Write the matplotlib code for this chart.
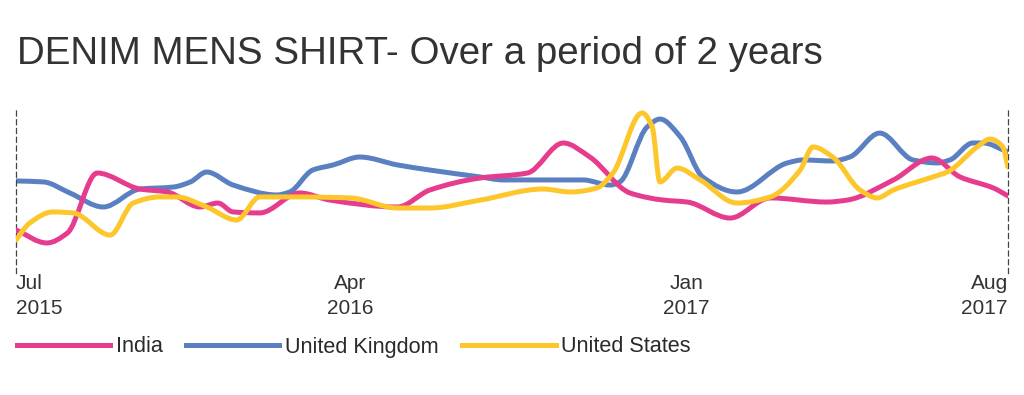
import numpy as np
import matplotlib
matplotlib.use("Agg")
import matplotlib.pyplot as plt
from matplotlib.path import Path
from matplotlib.patches import PathPatch
from matplotlib.lines import Line2D

plt.rcParams['font.family'] = ['Liberation Sans', 'DejaVu Sans']

title = "DENIM MENS SHIRT- Over a period of 2 years"
series_names = ["India", "United Kingdom", "United States"]
series_colors = ["#E63C8E", "#5B80C2", "#FDC72C"]

# x = weeks since start of July 2015, values = relative interest
india_weeks = [0, 3.6, 6.0, 9.5, 14.5, 17.7, 21.5, 23.6, 25.4, 28.5, 33.2, 36.7, 44.6, 48.4,
               54.3, 59.8, 64.0, 67.1, 71.8, 75.7, 78.5, 83.5, 88.2, 94.8, 97.2, 102.6,
               107.1, 110.4, 114.3, 116]
india_values = [26.1, 18.2, 24.2, 60.6, 50.9, 49.1, 40.0, 42.4, 37.0, 36.4, 48.5, 44.2, 40.0, 50.3,
                57.6, 60.6, 78.8, 70.3, 48.5, 44.2, 43.0, 33.3, 45.5, 43.0, 44.2, 56.4,
                69.7, 58.2, 51.5, 46.7]

uk_weeks = [0, 3.2, 6.3, 10.2, 14.5, 18.4, 20.4, 22.3, 25.4, 30.5, 32.0, 34.7, 37.1, 40.2,
            44.6, 48.4, 54.3, 57.0, 66.3, 69.5, 70.6, 73.8, 75.3, 77.7, 80.3, 84.3, 90.2,
            92.0, 95.5, 97.5, 101.0, 104.9, 107.7, 109.2, 111.9, 113.1, 116]
uk_values = [55.8, 55.2, 48.5, 40.0, 50.9, 52.1, 55.2, 61.2, 53.3, 47.3, 49.1, 62.4, 65.5, 70.3,
             65.5, 62.4, 58.2, 56.4, 56.4, 53.3, 55.2, 88.5, 93.3, 82.4, 58.2, 49.1, 66.7,
             68.5, 67.9, 70.3, 84.8, 68.5, 66.7, 68.5, 78.8, 78.8, 73.3]

us_weeks = [0, 1.6, 4.3, 6.7, 11.0, 13.7, 16.8, 18.8, 22.3, 25.8, 28.5, 33.2, 39.1, 44.6,
            48.4, 54.3, 61.6, 64.8, 67.9, 69.8, 73.2, 74.4, 75.3, 77.3, 80.0, 84.3, 88.2,
            91.7, 93.2, 95.5, 98.7, 100.7, 102.6, 107.2, 108.9, 112.4, 113.9, 115.4, 116]
us_values = [20.0, 30.3, 37.0, 36.4, 23.0, 42.4, 46.1, 46.1, 40.0, 32.1, 46.1, 46.1, 45.5, 39.4,
             39.4, 44.2, 50.9, 49.1, 51.5, 60.6, 97.0, 88.5, 55.2, 63.6, 56.4, 42.4, 46.1,
             62.4, 76.4, 70.3, 50.3, 45.5, 50.3, 58.2, 61.2, 76.4, 81.2, 76.4, 64.2]

tick_weeks = [0, 39.1, 78.4, 116]
tick_labels = ["Jul\n2015", "Apr\n2016", "Jan\n2017", "Aug\n2017"]


def smooth_path(xs, ys):
    x = np.asarray(xs, float)
    y = np.asarray(ys, float)
    h = np.diff(x)
    d = np.diff(y) / h
    n = len(x)
    m = np.zeros(n)
    for k in range(1, n - 1):
        if d[k - 1] * d[k] > 0:
            w1 = 2 * h[k] + h[k - 1]
            w2 = h[k] + 2 * h[k - 1]
            m[k] = (w1 + w2) / (w1 / d[k - 1] + w2 / d[k])
    m[0] = d[0]
    m[-1] = d[-1]
    verts = [(x[0], y[0])]
    codes = [Path.MOVETO]
    for k in range(n - 1):
        verts += [(x[k] + h[k] / 3, y[k] + m[k] * h[k] / 3),
                  (x[k + 1] - h[k] / 3, y[k + 1] - m[k + 1] * h[k] / 3),
                  (x[k + 1], y[k + 1])]
        codes += [Path.CURVE4] * 3
    return Path(verts, codes)


W, H = 1024, 395
fig = plt.figure(figsize=(W / 100, H / 100), dpi=100)
ax = fig.add_axes([16 / W, (H - 273) / H, (1008 - 16) / W, (273 - 108) / H])

all_series = [(india_weeks, india_values), (uk_weeks, uk_values), (us_weeks, us_values)]
zorders = [3, 2, 4]
lw = 3.6
for (wx, vy), c, z in zip(all_series, series_colors, zorders):
    p = PathPatch(smooth_path(wx, vy), facecolor='none', edgecolor=c, lw=lw,
                  capstyle='round', joinstyle='round', zorder=z)
    ax.add_patch(p)

ax.set_xlim(0, 116)
ax.set_ylim(0, 100)
ax.set_yticks([])
for s in ['top', 'bottom']:
    ax.spines[s].set_visible(False)
for s in ['left', 'right']:
    ax.spines[s].set_linestyle((0, (4, 3)))
    ax.spines[s].set_color('#444444')
    ax.spines[s].set_linewidth(0.9)

ax.set_xticks(tick_weeks)
ax.set_xticklabels(tick_labels, fontsize=15, color='#333333', linespacing=1.4)
ax.tick_params(axis='x', length=0, pad=1)
labels = ax.get_xticklabels()
labels[0].set_horizontalalignment('left')
labels[-1].set_horizontalalignment('right')

fig.text(17 / W, (H - 64) / H, title, fontsize=27.7, color='#333333', va='baseline', ha='left')

handles = [Line2D([], [], color=c, lw=lw) for c in series_colors]
fig.legend(handles, series_names, loc='center left', bbox_to_anchor=(17 / W, 48 / H),
           ncol=3, frameon=False, handlelength=4.3, handletextpad=0.25, columnspacing=1.1,
           borderpad=0, borderaxespad=0, fontsize=15.6, labelcolor='#2a2a2a')

fig.savefig('out.png', dpi=100)
